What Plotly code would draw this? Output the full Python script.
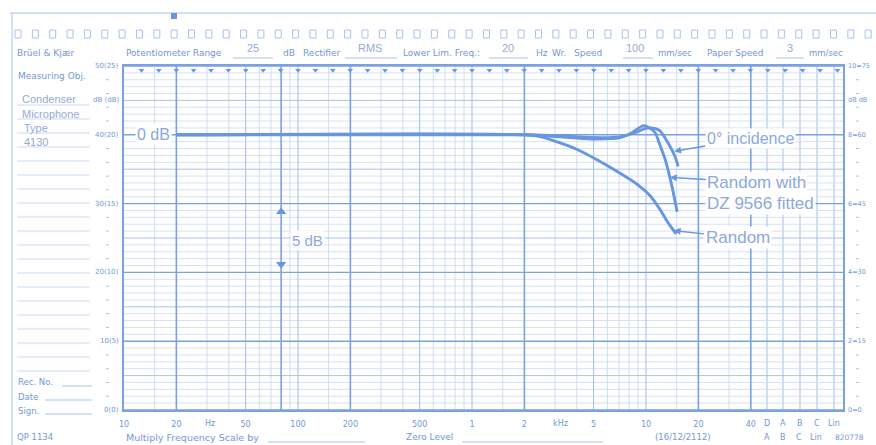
import math
import plotly.graph_objects as go

# ---------------- data ----------------
freq_0deg = [20, 2000, 3200, 4800, 7100, 8650, 9870, 10800, 12000, 13400, 14700, 15300]
level_0deg = [0, 0, -0.07, -0.2, -0.15, 0.15, 0.45, 0.5, 0.3, -0.6, -1.6, -2.3]

freq_dz = [20, 2000, 3200, 4800, 7100, 8300, 9600, 10500, 11300, 12000, 12900, 14100, 15100]
level_dz = [0, 0, -0.15, -0.3, -0.2, 0.15, 0.65, 0.5, 0.15, -0.7, -1.8, -3.75, -5.6]

freq_random = [20, 2000, 2500, 3150, 4000, 5200, 7100, 8900, 10500, 12000, 13400, 14900]
level_random = [0, 0, -0.15, -0.55, -1.05, -1.8, -2.8, -3.6, -4.4, -5.4, -6.4, -7.2]

tick_freqs = [10, 20, 50, 100, 200, 500, 1000, 2000, 5000, 10000, 20000, 40000]
tick_text = ["10", "20", "50", "100", "200", "500", "1", "2", "5", "10", "20", "40"]

scale_levels = [5, 2.5, 0, -5, -10, -15, -20]
left_scale = ["50(25)", "dB (dB)", "40(20)", "30(15)", "20(10)", "10(5)", "0(0)"]
right_scale = ["10=75", "dB dB", "8=60", "6=45", "4=30", "2=15", "0=0"]

weight_labels = ["D", "A", "B", "C", "Lin"]

# label arrows: (text, tip freq, tip level, ax, ay, font size)
curve_labels = [
    ("0° incidence", 14500, -1.2, 76, -13, 16),
    ("Random with", 13700, -3.1, 87, 5, 17),
    ("Random", 14400, -6.96, 64, 7, 17),
]

# ---------------- styling ----------------
W, H = 876, 445
L, R, T, B = 124, 843, 66, 410
Y_MIN, Y_MAX = -20, 5
X_RANGE = [1, 1 + (R - L) / 174.0]
F_MAX = 10 ** X_RANGE[1]

INK = "rgb(104,151,224)"
GRID_MINOR = "rgb(202,218,243)"
GRID_MED = "rgb(168,194,237)"
GRID_BOLD = "rgb(122,162,226)"
TXT = "rgb(115,152,214)"
BIG_TXT = "rgb(140,168,224)"
HAND = "rgb(150,170,212)"
PRINT_FONT = "DejaVu Sans"
LABEL_FONT = "Liberation Sans"


def px(x):
    return (x - L) / (R - L)


def py(y):
    return (B - y) / (B - T)


fig = go.Figure()


def add_lines(xs, ys, color, width):
    fig.add_trace(go.Scatter(x=xs, y=ys, mode="lines", line=dict(color=color, width=width),
                             hoverinfo="skip", showlegend=False))


# vertical grid
minor_v, med_v, bold_v = [], [], []
bold_set = {20, 80, 200, 2000, 20000}
med_set = {50, 100, 500, 1000, 5000, 10000}
for dec in [10, 100, 1000, 10000]:
    for m in [1, 1.5, 2, 3, 4, 5, 6, 7, 8, 9]:
        f = round(m * dec)
        if f > 40000 or f == 10:
            continue
        if f in bold_set:
            bold_v.append(f)
        elif f in med_set:
            med_v.append(f)
        else:
            minor_v.append(f)
bold_v.append(40000)


def vlines(fs):
    xs, ys = [], []
    for f in fs:
        xs += [f, f, None]
        ys += [Y_MIN, Y_MAX, None]
    return xs, ys


def hlines(levels):
    xs, ys = [], []
    for lv in levels:
        xs += [10, F_MAX, None]
        ys += [lv, lv, None]
    return xs, ys


h_minor, h_med, h_bold = [], [], []
for i in range(0, 51):
    lv = Y_MIN + 0.5 * i
    if i % 10 == 0:
        h_bold.append(lv)
    elif i % 5 == 0:
        h_med.append(lv)
    else:
        h_minor.append(lv)

add_lines(*hlines(h_minor), GRID_MINOR, 0.8)
add_lines(*vlines(minor_v), GRID_MINOR, 0.9)
add_lines(*hlines(h_med), GRID_MED, 1.0)
add_lines(*vlines(med_v), GRID_MED, 1.1)
add_lines(*hlines(h_bold), GRID_BOLD, 1.4)
add_lines(*vlines(bold_v), GRID_BOLD, 1.6)

# time-marker ticks along the top edge
tmark_f = [10 ** (1 + 0.1 * k) for k in range(1, 42)]
fig.add_trace(go.Scatter(x=tmark_f, y=[4.7] * len(tmark_f), mode="markers",
                         marker=dict(symbol="triangle-down", size=5, color=INK),
                         hoverinfo="skip", showlegend=False))

# curves
for fx, ly in [(freq_random, level_random), (freq_dz, level_dz), (freq_0deg, level_0deg)]:
    fig.add_trace(go.Scatter(x=fx, y=ly, mode="lines",
                             line=dict(color=INK, width=2.9, shape="spline", smoothing=0.6),
                             hoverinfo="skip", showlegend=False))

# 5 dB scale arrow
fig.add_trace(go.Scatter(x=[80, 80], y=[-5.6, -9.4], mode="markers",
                         marker=dict(symbol=["triangle-up", "triangle-down"], size=9, color=INK),
                         hoverinfo="skip", showlegend=False))

shapes = []
annots = []

# weighting columns beyond 40 kHz
weight_px = [767, 783, 800, 817, 834]
for xp in weight_px:
    shapes.append(dict(type="line", xref="paper", yref="paper", x0=px(xp), x1=px(xp), y0=0, y1=1,
                       line=dict(color=GRID_MED, width=1.1), layer="below"))

# page frame
shapes.append(dict(type="line", xref="paper", yref="paper", x0=px(10), x1=px(876), y0=py(13), y1=py(13),
                   line=dict(color=GRID_MED, width=1.2)))
shapes.append(dict(type="line", xref="paper", yref="paper", x0=px(12), x1=px(12), y0=py(13), y1=py(445),
                   line=dict(color=GRID_MED, width=1.0)))
shapes.append(dict(type="rect", xref="paper", yref="paper", x0=px(171), x1=px(177), y0=py(19), y1=py(13),
                   fillcolor=INK, line=dict(width=0)))

# sprocket holes
for k in range(50):
    cx = 18 + 17.35 * k
    shapes.append(dict(type="rect", xref="paper", yref="paper", x0=px(cx - 3), x1=px(cx + 3),
                       y0=py(38), y1=py(30), line=dict(color=GRID_MED, width=1)))

# left column underlines
for k in range(20):
    yy = 105 + 14 * k
    shapes.append(dict(type="line", xref="paper", yref="paper", x0=px(17), x1=px(90), y0=py(yy), y1=py(yy),
                       line=dict(color="rgb(205,218,242)", width=1)))
for (x0, x1, yy) in [(62, 92, 386), (45, 92, 400), (45, 92, 414),
                     (233, 273, 58), (345, 397, 58), (489, 528, 58), (623, 653, 58), (776, 804, 58),
                     (268, 365, 442), (462, 603, 442)]:
    shapes.append(dict(type="line", xref="paper", yref="paper", x0=px(x0), x1=px(x1), y0=py(yy), y1=py(yy),
                       line=dict(color=GRID_MED, width=1)))

# scale ticks on both sides
for i in range(26):
    lv = Y_MIN + i
    if lv % 5 == 0:
        continue
    yy = B - (lv - Y_MIN) / (Y_MAX - Y_MIN) * (B - T)
    for (x0, x1) in [(106, 109), (856, 859)]:
        shapes.append(dict(type="line", xref="paper", yref="paper", x0=px(x0), x1=px(x1),
                           y0=py(yy), y1=py(yy), line=dict(color=GRID_MED, width=1)))


def txt(x, y, s, size=9, color=TXT, anchor="left", font=PRINT_FONT, bg=None):
    d = dict(xref="paper", yref="paper", x=px(x), y=py(y), text=s, showarrow=False,
             xanchor=anchor, yanchor="middle", font=dict(family=font, size=size, color=color))
    if bg:
        d["bgcolor"] = bg
    annots.append(d)


# header
txt(15, 53, "Brüel & Kjær", 9)
txt(124, 53, "Potentiometer Range", 9)
txt(253, 48, "25", 11, HAND, "center", LABEL_FONT)
txt(281, 53, "dB", 9)
txt(301, 53, "Rectifier", 9)
txt(370, 48, "RMS", 11, HAND, "center", LABEL_FONT)
txt(401, 53, "Lower Lim. Freq.:", 9)
txt(508, 48, "20", 11, HAND, "center", LABEL_FONT)
txt(534, 53, "Hz", 9)
txt(550, 53, "Wr.", 9)
txt(572, 53, "Speed", 9)
txt(635, 48, "100", 11, HAND, "center", LABEL_FONT)
txt(656, 53, "mm/sec", 8.5)
txt(705, 53, "Paper Speed", 9)
txt(790, 48, "3", 11, HAND, "center", LABEL_FONT)
txt(807, 53, "mm/sec", 8.5)

# left column
txt(16, 76, "Measuring Obj.", 9)
txt(20, 99, "Condenser", 11, HAND, font=LABEL_FONT)
txt(20, 114, "Microphone", 11, HAND, font=LABEL_FONT)
txt(22, 128, "Type", 11, HAND, font=LABEL_FONT)
txt(22, 142, "4130", 11, HAND, font=LABEL_FONT)
txt(16, 382, "Rec. No.", 8.5)
txt(16, 397, "Date", 8.5)
txt(16, 411, "Sign.", 8.5)

# scale labels
for lv, ltxt, rtxt in zip(scale_levels, left_scale, right_scale):
    yy = B - (lv - Y_MIN) / (Y_MAX - Y_MIN) * (B - T)
    txt(121, yy, ltxt, 7, anchor="right")
    txt(846, yy, rtxt, 6.5, anchor="left")

# bottom row
txt(210, 423, "Hz", 8, anchor="center")
txt(560, 423, "kHz", 8, anchor="center")
for xp, lab in zip(weight_px, weight_labels):
    txt(xp, 423, lab, 8, anchor="center")
txt(15, 437, "QP 1134", 8.5)
txt(124, 437, "Multiply Frequency Scale by", 9.5)
txt(404, 437, "Zero Level", 9)
txt(653, 437, "(16/12/2112)", 8.5)
txt(767, 437, "A", 8, anchor="center")
txt(783, 437, "B", 8, anchor="center")
txt(799, 437, "C", 8, anchor="center")
txt(816, 437, "Lin", 8, anchor="center")
txt(849, 437, "820778", 7.5, anchor="center")

# in-plot labels
txt(135, 134, "0 dB", 16, BIG_TXT, font=LABEL_FONT, bg="white")
txt(290, 240, "5 dB", 15, BIG_TXT, font=LABEL_FONT, bg="white")
txt(705, 203, "DZ 9566 fitted", 17, BIG_TXT, font=LABEL_FONT, bg="white")

for s, f, lv, ax, ay, fs in curve_labels:
    annots.append(dict(xref="x", yref="y", x=math.log10(f), y=lv, text=s, showarrow=True,
                       ax=ax, ay=ay, arrowhead=2, arrowsize=1, arrowwidth=1.4, arrowcolor=INK,
                       bgcolor="white", font=dict(family=LABEL_FONT, size=fs, color=BIG_TXT)))

fig.update_layout(
    width=W, height=H,
    margin=dict(l=L, r=W - R, t=T, b=H - B, pad=0),
    paper_bgcolor="white", plot_bgcolor="white",
    showlegend=False,
    shapes=shapes, annotations=annots,
    xaxis=dict(type="log", range=X_RANGE, showgrid=False, zeroline=False,
               tickmode="array", tickvals=tick_freqs, ticktext=tick_text, ticks="",
               tickfont=dict(family=PRINT_FONT, size=8, color=TXT), ticklabelstandoff=6,
               showline=True, mirror=True, linecolor=GRID_BOLD, linewidth=1.6),
    yaxis=dict(range=[Y_MIN, Y_MAX], showgrid=False, zeroline=False, showticklabels=False, ticks="",
               showline=True, mirror=True, linecolor=GRID_BOLD, linewidth=1.6),
)

fig.write_html("out.html", config={"displayModeBar": False},
               post_script="document.body.style.margin='0px';")
